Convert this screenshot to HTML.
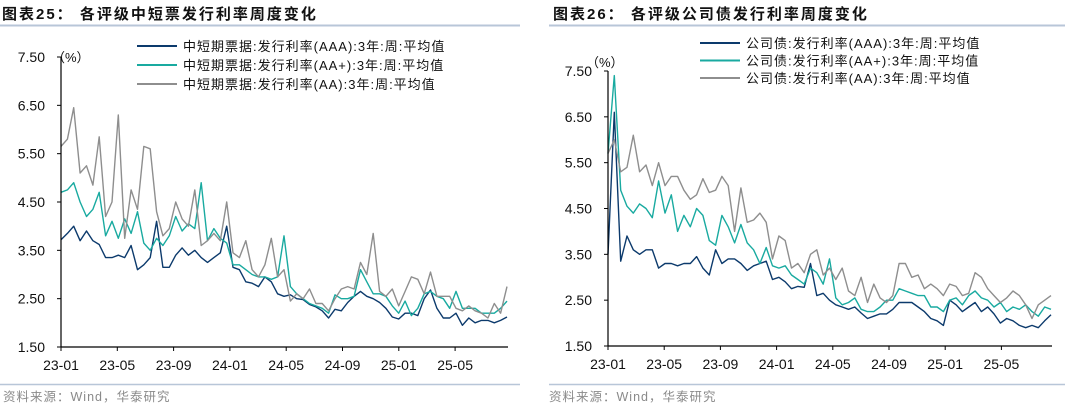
<!DOCTYPE html>
<html><head><meta charset="utf-8"><style>
body{margin:0;background:#fff;width:1065px;height:406px;overflow:hidden;font-family:"Liberation Sans","Noto Sans CJK SC",sans-serif;}
svg{display:block}
</style></head><body>
<svg id="c" width="1065" height="406" xmlns="http://www.w3.org/2000/svg">
<text x="2" y="19" font-size="15" font-weight="bold" letter-spacing="2" fill="#111" font-family="Liberation Sans,Noto Sans CJK SC,sans-serif">图表25：  各评级中短票发行利率周度变化</text>
<line x1="0" y1="25.5" x2="520" y2="25.5" stroke="#b8c6d8" stroke-width="2"/>
<text x="553" y="19" font-size="15" font-weight="bold" letter-spacing="2" fill="#111" font-family="Liberation Sans,Noto Sans CJK SC,sans-serif">图表26：  各评级公司债发行利率周度变化</text>
<line x1="549" y1="25.5" x2="1065" y2="25.5" stroke="#b8c6d8" stroke-width="2"/>
<line x1="0" y1="384.5" x2="520" y2="384.5" stroke="#b8c6d8" stroke-width="1.5"/>
<line x1="549" y1="384.5" x2="1065" y2="384.5" stroke="#b8c6d8" stroke-width="1.5"/>
<text x="3" y="401" font-size="12.5" letter-spacing="1" fill="#8a8a8a">资料来源：Wind，华泰研究</text>
<text x="549" y="401" font-size="12.5" letter-spacing="1" fill="#8a8a8a">资料来源：Wind，华泰研究</text>
</svg>
<script>
const yTicks=[1.5,2.5,3.5,4.5,5.5,6.5,7.5];
const xTickLabels=["23-01","23-05","23-09","24-01","24-05","24-09","25-01","25-05"];
const leftNames=["中短期票据:发行利率(AAA):3年:周:平均值","中短期票据:发行利率(AA+):3年:周:平均值","中短期票据:发行利率(AA):3年:周:平均值"];
const rightNames=["公司债:发行利率(AAA):3年:周:平均值","公司债:发行利率(AA+):3年:周:平均值","公司债:发行利率(AA):3年:周:平均值"];
const leftAAA=[3.72,3.85,4.0,3.7,3.9,3.7,3.62,3.35,3.35,3.4,3.35,3.6,3.1,3.2,3.35,4.1,3.15,3.15,3.4,3.55,3.4,3.5,3.35,3.25,3.35,3.45,4.0,3.15,3.1,2.85,2.82,2.75,2.95,2.85,2.6,2.55,2.58,2.5,2.48,2.38,2.33,2.25,2.1,2.28,2.25,2.42,2.55,2.65,2.55,2.5,2.42,2.3,2.12,2.08,2.2,2.2,2.15,2.5,2.68,2.3,2.1,2.1,2.2,1.95,2.1,2.0,2.05,2.05,2.0,2.05,2.12];
const leftAAp=[4.7,4.75,4.9,4.5,4.2,4.35,4.7,3.8,4.1,3.75,4.15,3.85,4.3,3.65,3.5,3.75,3.6,3.8,4.2,3.9,4.05,3.95,4.9,3.7,3.95,3.75,3.65,3.2,3.2,3.1,3.0,2.95,2.95,2.9,2.95,3.8,2.75,2.6,2.5,2.4,2.35,2.3,2.2,2.58,2.5,2.5,2.55,3.1,2.85,2.6,2.6,2.55,2.35,2.2,2.45,2.15,2.3,2.6,2.65,2.55,2.5,2.3,2.65,2.3,2.3,2.3,2.2,2.2,2.2,2.3,2.45];
const leftAA=[5.65,5.8,6.45,5.1,5.25,4.85,5.85,4.2,4.5,6.3,3.75,4.75,4.35,5.65,5.6,4.3,3.8,3.95,4.5,4.15,4.0,4.75,3.6,3.7,3.85,3.7,4.5,3.45,3.35,3.7,3.1,2.95,3.2,3.75,2.95,3.1,2.45,2.6,2.5,2.7,2.4,2.4,2.25,2.5,2.7,2.75,2.7,3.25,3.0,3.85,2.65,2.55,2.7,2.35,2.65,2.95,2.9,2.6,3.05,2.55,2.55,2.55,2.3,2.25,2.35,2.25,2.2,2.1,2.4,2.2,2.75];
const rightAAA=[3.5,6.6,3.35,3.9,3.6,3.5,3.6,3.6,3.2,3.3,3.3,3.25,3.3,3.3,3.45,3.2,3.05,3.6,3.3,3.4,3.4,3.3,3.15,3.25,3.3,3.35,2.95,3.0,2.9,2.75,2.8,2.78,3.3,2.6,2.65,2.5,2.4,2.35,2.3,2.35,2.22,2.1,2.15,2.2,2.2,2.3,2.45,2.45,2.45,2.35,2.25,2.1,2.05,1.95,2.5,2.4,2.25,2.35,2.45,2.25,2.35,2.2,2.0,2.1,2.05,1.95,1.9,1.95,1.9,2.05,2.18];
const rightAAp=[5.7,7.4,4.9,4.55,4.4,4.6,4.5,4.3,5.1,4.4,4.8,4.0,4.35,4.1,4.5,4.35,3.8,3.7,4.35,4.1,3.75,4.15,3.75,3.6,3.3,3.65,3.25,3.2,3.25,3.05,2.95,2.85,3.2,3.1,2.85,3.4,2.55,2.4,2.45,2.55,2.3,2.25,2.25,2.35,2.5,2.5,2.75,2.7,2.65,2.6,2.6,2.35,2.35,2.25,2.5,2.55,2.4,2.6,2.7,2.55,2.5,2.35,2.45,2.25,2.35,2.3,2.4,2.25,2.15,2.35,2.3];
const rightAA=[5.7,6.0,5.3,5.4,6.1,5.3,5.45,5.0,5.5,5.0,5.2,5.2,4.9,4.7,4.8,5.15,4.85,4.9,5.2,5.0,4.0,4.95,4.2,4.25,4.4,4.2,3.4,3.9,3.8,3.2,3.3,3.1,3.5,3.6,3.05,3.2,2.95,3.2,2.7,2.6,3.0,2.45,2.85,2.55,2.45,2.6,3.3,3.3,3.0,3.05,2.75,2.85,2.75,2.6,2.85,2.8,2.6,2.65,3.1,3.0,2.75,2.6,2.45,2.55,2.7,2.6,2.4,2.1,2.4,2.5,2.6];
const colors=["#0c3a6c","#19aaa0","#8e8e8e"];
const NS="http://www.w3.org/2000/svg";
const svg=document.getElementById('c');
function mk(tag,attrs){const e=document.createElementNS(NS,tag);for(const k in attrs)e.setAttribute(k,attrs[k]);svg.appendChild(e);return e;}
function panel(p,series,names,prefix){
  const x=i=>p.x0+(p.x1-p.x0)*i/(series[0].length-1);
  const y=v=>p.yb-(v-1.5)/6*(p.yb-p.yt);
  const tx=i=>p.x0+p.tickStep*i;
  series.forEach((s,si)=>{
    const pl=mk('polyline',{points:s.map((v,i)=>x(i).toFixed(1)+','+y(v).toFixed(1)).join(' '),fill:'none',stroke:colors[si],'stroke-width':1.4,'stroke-linejoin':'round'});
    
    
  });
  const ya=mk('line',{x1:p.x0,y1:p.yt,x2:p.x0,y2:p.yb,stroke:'#000','stroke-width':1.2});
  
  
  const xa=mk('line',{x1:p.x0,y1:p.yb,x2:p.xe,y2:p.yb,stroke:'#000','stroke-width':1.2});
  
  
  yTicks.forEach(v=>{
    const t=mk('line',{x1:p.x0-4,y1:y(v),x2:p.x0,y2:y(v),stroke:'#000'});
    
    
    const l=mk('text',{x:p.x0-p.labGap,y:y(v)+5,'text-anchor':'end','font-size':14,fill:'#111'});
    l.textContent=v.toFixed(2);
    
    
  });
  xTickLabels.forEach((lab,i)=>{
    const t=mk('line',{x1:tx(i),y1:p.yb,x2:tx(i),y2:p.yb+4,stroke:'#000'});
    
    
    const l=mk('text',{x:tx(i),y:p.yb+23,'text-anchor':'middle','font-size':14,fill:'#111'});
    l.textContent=lab;
    
    
  });
  const u=mk('text',{x:p.ux,y:p.uy,'font-size':13,fill:'#111'});
  u.textContent='（%）';
  
  
  names.forEach((n,i)=>{
    const ly=p.ly+i*p.lstep;
    const ln=mk('line',{x1:p.lx,y1:ly,x2:p.lx+40,y2:ly,stroke:colors[i],'stroke-width':2});
    
    
    const tt=mk('text',{x:p.lx+46,y:ly+5,'font-size':13,'letter-spacing':1,fill:'#111'});
    tt.textContent=n;
    
    
  });
}
panel({x0:61,x1:507,xe:508,yt:57,yb:347,tickStep:56.3,labGap:16,ux:52,uy:62,lx:137,ly:46,lstep:19},[leftAAA,leftAAp,leftAA],leftNames,'left');
panel({x0:608,x1:1051,xe:1052,yt:71,yb:346,tickStep:56.2,labGap:16,ux:586,uy:67,lx:700,ly:43,lstep:17.5},[rightAAA,rightAAp,rightAA],rightNames,'right');
</script>
</body></html>
